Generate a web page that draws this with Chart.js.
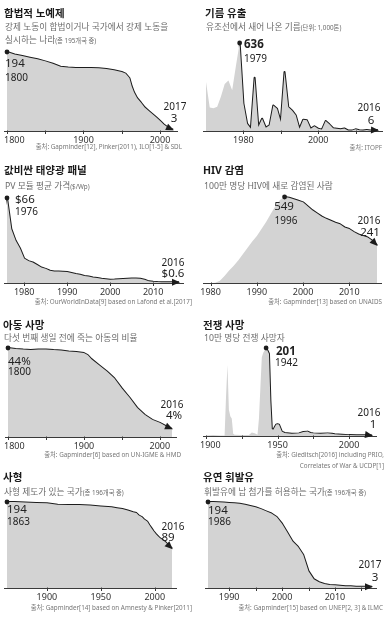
<!DOCTYPE html>
<html lang="ko">
<head>
<meta charset="utf-8">
<script src="https://cdn.jsdelivr.net/npm/chart.js@4.4.1/dist/chart.umd.min.js"></script>
<style>
  body { margin: 0; background: #fff; font-family: "Noto Sans", "Noto Sans CJK KR", sans-serif; }
  #wrap { position: relative; width: 392px; height: 621px; overflow: hidden; background: #fff; }
  .panel { position: absolute; width: 196px; height: 155px; }
  .panel canvas { position: absolute; left: 0; top: 0; }
  .t { position: absolute; white-space: nowrap; line-height: 1; transform: translateY(-50%); }
  .title { font-weight: bold; font-size: 10.5px; color: #1a1a1a; }
  .sub { font-size: 8.7px; color: #6b6b6b; }
  .sub small { font-size: 6.3px; }
  .src { font-size: 6.3px; color: #777; }
</style>
</head>
<body>
<div id="wrap"></div>
<script>
// --- dados ---
const slaveryYears = [1800,1810,1820,1830,1840,1850,1860,1870,1880,1890,1900,1910,1920,1930,1940,1950,1955,1960,1963,1966,1970,1975,1980,1985,1990,1995,2000,2005,2010,2017];
const slaveryValues = [194,188,184,180,176,171,165,158,156,155,155,155,154,152,149,145,141,130,110,95,81,70,58,50,42,34,25,16,9,3];

const oilYears = Array.from({ length: 47 }, (_, i) => 1970 + i);
const oilValues = [354,170,165,175,250,340,365,295,470,636,
                   200,53,17,384,29,89,24,41,185,161,
                   65,426,173,149,113,17,82,77,17,34,
                   17,10,72,48,20,17,13,18,4,3,
                   12,5,3,7,4,7,6];

const solarYears = Array.from({ length: 41 }, (_, i) => 1976 + i);
const solarValues = [66,42,33,27,19,17,16,14,12,11,
                     9.5,9,9,8.8,8.5,7.8,7,6.5,5.5,5,
                     4.3,3.8,3.3,3,2.6,2.7,2.9,3.1,3.3,3.4,
                     3.4,3.3,2.5,1.3,0.9,0.7,0.6,0.6,0.6,0.6,
                     0.6];

const hivYears = Array.from({ length: 38 }, (_, i) => 1979 + i);
const hivValues = [0,0,2,15,45,80,110,145,185,225,
                   265,300,345,390,440,490,530,549,545,535,
                   525,515,490,465,445,425,410,398,385,375,
                   355,345,325,310,300,290,270,241];

const childYears = [1800,1810,1820,1830,1840,1850,1860,1870,1880,1890,1900,1905,1910,1920,1930,1940,1950,1960,1970,1980,1990,2000,2010,2016];
const childValues = [44,43.5,43.2,43,43.3,43.3,43,42.8,42.3,42,41.5,40.5,38.5,35.5,32.5,29,24,19.5,14.5,11,8.5,7,5,4];

const warYears = [1900,1905,1910,1913,1914,1915,1916,1917,1918,1919,
                  1920,1925,1930,1932,1934,1936,1937,1938,1939,1940,
                  1941,1942,1943,1944,1945,1946,1947,1948,1949,1950,
                  1951,1952,1953,1955,1960,1965,1968,1971,1973,1975,
                  1980,1985,1988,1990,1995,2000,2005,2010,2014,2016];
const warValues = [1,2,1,1,90,162,60,45,40,5,
                   3,2,2,8,6,3,40,110,180,190,
                   196,201,195,188,80,16,14,20,26,27,
                   26,18,10,7,5,6,9,10,7,6,
                   5,6,5,4,3,2,1.5,1.5,2,1];

const deathYears = [1863,1870,1880,1890,1900,1910,1920,1930,1940,1950,1960,1965,1970,1975,1980,1983,1985,1988,1990,1993,1995,1997,1999,2001,2003,2005,2008,2010,2013,2016];
const deathValues = [194,194,193,192,191,188,187,187,186,184,182,180,178,175,171,169,164,160,155,150,142,135,128,122,117,112,107,103,96,89];

const leadYears = Array.from({ length: 32 }, (_, i) => 1986 + i);
const leadValues = [194,194,193.5,193,192,191,190,188,185,182,
                    178,173,168,160,145,125,105,93,75,38,
                    20,13,9,7,6,5,4,4,3,3,
                    3,3];

const GRAY = '#d3d3d3';
const INK = '#1c1c1c';
const FONT = '"Noto Sans", "Noto Sans CJK KR", sans-serif';

// cada painel: posição, área do gráfico (left, top, right, bottom) e textos
const panels = [
  { pos: [0, 0], area: [7, 52, 173, 131], xr: [1800, 2017], yMax: 194,
    years: slaveryYears, values: slaveryValues, lineFrom: 1800,
    ticks: [1800, 1850, 1900, 1950, 2000], labels: [1800, 1900, 2000],
    title: '합법적 노예제', titleY: 13,
    sub: ['강제 노동이 합법이거나 국가에서 강제 노동을', '실시하는 나라<small>(총 195개국 중)</small>'], subY: [27, 40], subX: 5,
    src: ['출처: Gapminder[12], Pinker(2011), ILO[1-5] &amp; SDL'], srcY: [147], srcR: 182,
    notes: [['194', 5, 64, 'left', 11.5], ['1800', 5, 78, 'left', 10], ['2017', 175, 107, 'center', 10], ['3', 174, 119, 'center', 11.5]] },
  { pos: [196, 0], area: [10, 43, 182, 131], xr: [1970, 2016], yMax: 636,
    years: oilYears, values: oilValues, lineFrom: 1979,
    ticks: [1980, 1990, 2000, 2010], labels: [1980, 2000],
    title: '기름 유출', titleY: 13,
    sub: ['유조선에서 새어 나온 기름<small>(단위: 1,000톤)</small>'], subY: [27], subX: 10,
    src: ['출처: ITOPF'], srcY: [148], srcR: 186,
    notes: [['636', 48, 45, 'left', 11.5, true], ['1979', 48, 59, 'left', 10], ['2016', 173, 108, 'center', 10], ['6', 175, 121, 'center', 11.5]] },
  { pos: [0, 155], area: [7, 43, 179, 128], xr: [1976, 2016], yMax: 66,
    years: solarYears, values: solarValues, lineFrom: 1976,
    ticks: [1980, 1990, 2000, 2010], labels: [1980, 1990, 2000, 2010],
    title: '값비싼 태양광 패널', titleY: 15,
    sub: ['PV 모듈 평균 가격<small>($/Wp)</small>'], subY: [31], subX: 5,
    src: ['출처: OurWorldInData[9] based on Lafond et al.[2017]'], srcY: [147], srcR: 192,
    notes: [['$66', 15, 45, 'left', 11.5], ['1976', 15, 57, 'left', 10], ['2016', 173, 108, 'center', 10], ['$0.6', 173, 119, 'center', 11.5]] },
  { pos: [196, 155], area: [10, 42, 181, 128], xr: [1979, 2016], yMax: 549,
    years: hivYears, values: hivValues, lineFrom: 1996,
    ticks: [1980, 1990, 2000, 2010], labels: [1980, 1990, 2000, 2010],
    title: 'HIV 감염', titleY: 15,
    sub: ['100만 명당 HIV에 새로 감염된 사람'], subY: [31], subX: 8,
    src: ['출처: Gapminder[13] based on UNAIDS'], srcY: [147], srcR: 186,
    notes: [['549', 88, 52, 'center', 11.5], ['1996', 90, 66, 'center', 10], ['2016', 173, 66, 'center', 10], ['241', 174, 78, 'center', 11.5]] },
  { pos: [0, 310], area: [8, 38, 172, 127], xr: [1800, 2016], yMax: 44,
    years: childYears, values: childValues, lineFrom: 1800,
    ticks: [1800, 1850, 1900, 1950, 2000], labels: [1800, 1900, 2000],
    title: '아동 사망', titleY: 15,
    sub: ['다섯 번째 생일 전에 죽는 아동의 비율'], subY: [28], subX: 4,
    src: ['출처: Gapminder[6] based on UN-IGME &amp; HMD'], srcY: [145], srcR: 181,
    notes: [['44%', 8, 52, 'left', 11.5], ['1800', 8, 62, 'left', 10], ['2016', 172, 95, 'center', 10], ['4%', 174, 106, 'center', 11.5]] },
  { pos: [196, 310], area: [10, 38, 176, 126], xr: [1900, 2016], yMax: 201,
    years: warYears, values: warValues, lineFrom: 1942,
    ticks: [1900, 1925, 1950, 1975, 2000], labels: [1900, 1950, 2000],
    title: '전쟁 사망', titleY: 15,
    sub: ['10만 명당 전쟁 사망자'], subY: [28], subX: 8,
    src: ['출처: Gleditsch[2016] including PRIO,', 'Correlates of War &amp; UCDP[1]'], srcY: [145, 156], srcR: 188,
    notes: [['201', 80, 42, 'left', 11.5, true], ['1942', 79, 53, 'left', 10], ['2016', 173, 103, 'center', 10], ['1', 177, 115, 'center', 11.5]] },
  { pos: [0, 465], area: [7, 37, 172, 123], xr: [1863, 2016], yMax: 194,
    years: deathYears, values: deathValues, lineFrom: 1863,
    ticks: [1900, 1950, 2000], labels: [1900, 1950, 2000],
    title: '사형', titleY: 12,
    sub: ['사형 제도가 있는 국가<small>(총 196개국 중)</small>'], subY: [27], subX: 4,
    src: ['출처: Gapminder[14] based on Amnesty &amp; Pinker[2011]'], srcY: [143], srcR: 192,
    notes: [['194', 7, 45, 'left', 11.5], ['1863', 7, 57, 'left', 10], ['2016', 173, 62, 'center', 10], ['89', 168, 73, 'center', 11.5]] },
  { pos: [196, 465], area: [12, 37, 176, 123], xr: [1986, 2017], yMax: 194,
    years: leadYears, values: leadValues, lineFrom: 1986,
    ticks: [1990, 1995, 2000, 2005, 2010, 2015], labels: [1990, 2000, 2010],
    title: '유연 휘발유', titleY: 12,
    sub: ['휘발유에 납 첨가를 허용하는 국가<small>(총 196개국 중)</small>'], subY: [27], subX: 8,
    src: ['출처: Gapminder[15] based on UNEP[2, 3] &amp; ILMC'], srcY: [143], srcR: 187,
    notes: [['194', 12, 46, 'left', 11.5], ['1986', 12, 57, 'left', 10], ['2017', 174, 100, 'center', 10], ['3', 179, 113, 'center', 11.5]] }
];

// Plugin: eixo, rótulos, ponto inicial, seta final e anotações
function makeDecor(p) {
  return {
    id: 'decor',
    afterDatasetsDraw(chart) {
      const { ctx, chartArea: a, scales: { x, y } } = chart;
      const by = Math.round(y.getPixelForValue(0)) + 0.5;
      ctx.save();
      ctx.strokeStyle = '#3a3a3a';
      ctx.lineWidth = 1;
      ctx.beginPath();
      ctx.moveTo(a.left - 3, by);
      ctx.lineTo(a.right + 5, by);
      ctx.stroke();
      p.ticks.forEach(t => {
        const px = Math.round(x.getPixelForValue(t)) + 0.5;
        ctx.beginPath();
        ctx.moveTo(px, by - 1);
        ctx.lineTo(px, by + 2.5);
        ctx.stroke();
      });
      ctx.fillStyle = '#333';
      ctx.font = '9px ' + FONT;
      ctx.textBaseline = 'middle';
      ctx.textAlign = 'center';
      p.labels.forEach(t => {
        const txt = String(t);
        const w = ctx.measureText(txt).width;
        let px = x.getPixelForValue(t);
        if (px - w / 2 < 4) px = 4 + w / 2;
        ctx.fillText(txt, px, by + 9);
      });

      // linha preta: ponto no início e seta no fim
      const pts = chart.getDatasetMeta(1).data;
      const first = pts[0], last = pts[pts.length - 1], prev = pts[pts.length - 2];
      ctx.fillStyle = INK;
      ctx.beginPath();
      ctx.arc(first.x, first.y, 2.4, 0, Math.PI * 2);
      ctx.fill();
      const ang = Math.atan2(last.y - prev.y, last.x - prev.x);
      ctx.save();
      ctx.translate(last.x, last.y);
      ctx.rotate(ang);
      ctx.beginPath();
      ctx.moveTo(1, 0);
      ctx.lineTo(-7, -3.5);
      ctx.lineTo(-7, 3.5);
      ctx.closePath();
      ctx.fill();
      ctx.restore();

      ctx.fillStyle = '#222';
      p.notes.forEach(([txt, nx, ny, align, size, bold]) => {
        ctx.font = (bold ? 'bold ' : '') + size + 'px ' + FONT;
        ctx.textAlign = align;
        ctx.fillText(txt, nx, ny);
      });
      ctx.restore();
    }
  };
}

const wrap = document.getElementById('wrap');

function addText(parent, cls, html, x, y, right) {
  const d = document.createElement('div');
  d.className = 't ' + cls;
  d.innerHTML = html;
  d.style.top = y + 'px';
  if (right !== undefined) d.style.right = (196 - right) + 'px';
  else d.style.left = x + 'px';
  parent.appendChild(d);
}

panels.forEach(p => {
  const el = document.createElement('div');
  el.className = 'panel';
  el.style.left = p.pos[0] + 'px';
  el.style.top = p.pos[1] + 'px';
  const cv = document.createElement('canvas');
  cv.width = 196;
  cv.height = 160;
  el.appendChild(cv);

  addText(el, 'title', p.title, p.subX - 1, p.titleY);
  p.sub.forEach((s, i) => addText(el, 'sub', s, p.subX, p.subY[i]));
  p.src.forEach((s, i) => addText(el, 'src', s, 0, p.srcY[i], p.srcR));
  wrap.appendChild(el);

  const pts = p.years.map((yr, i) => ({ x: yr, y: p.values[i] }));
  const a = p.area;

  new Chart(cv, {
    type: 'line',
    data: {
      datasets: [
        { data: pts, fill: 'origin', backgroundColor: GRAY, borderColor: 'transparent', borderWidth: 0, pointRadius: 0, tension: 0, clip: false },
        { data: pts.filter(d => d.x >= p.lineFrom), fill: false, borderColor: INK, borderWidth: 2, pointRadius: 0, tension: 0, clip: false, borderJoinStyle: 'round' }
      ]
    },
    options: {
      responsive: false,
      animation: false,
      events: [],
      layout: { padding: { left: a[0], top: a[1], right: 196 - a[2], bottom: 160 - a[3] } },
      scales: {
        x: { type: 'linear', display: false, min: p.xr[0], max: p.xr[1] },
        y: { display: false, min: 0, max: p.yMax }
      },
      plugins: { legend: { display: false }, tooltip: { enabled: false } }
    },
    plugins: [makeDecor(p)]
  });
});
</script>
</body>
</html>
